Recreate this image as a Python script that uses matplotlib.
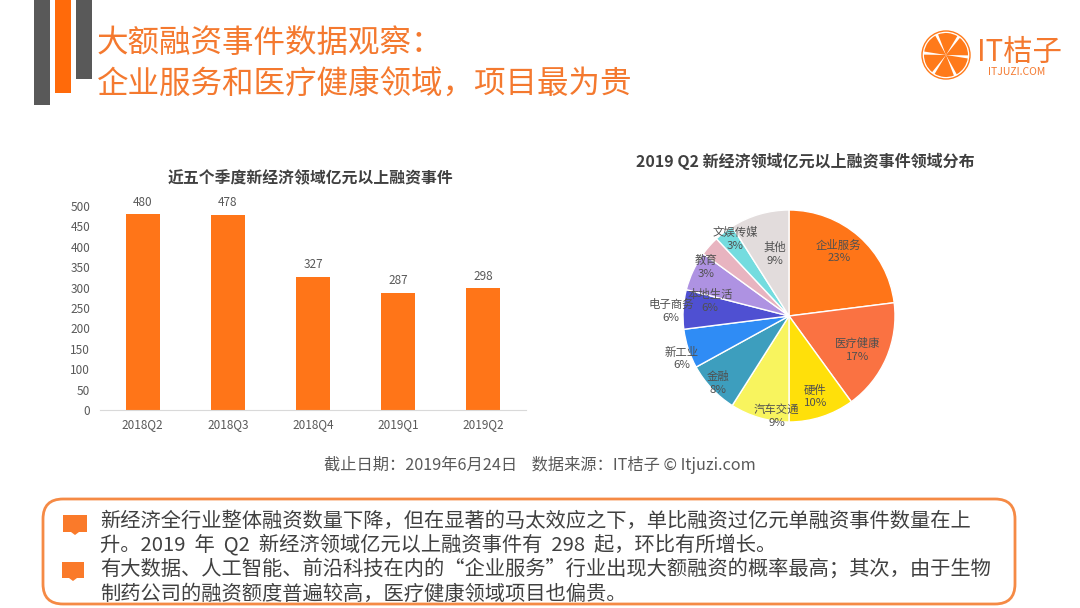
import matplotlib
matplotlib.use("Agg")
import matplotlib.pyplot as plt
from matplotlib.patches import Rectangle, FancyBboxPatch, Polygon, Circle, Wedge

plt.rcParams['font.family'] = ['Noto Sans CJK SC', 'DejaVu Sans']

quarters = ['2018Q2', '2018Q3', '2018Q4', '2019Q1', '2019Q2']
deals = [480, 478, 327, 287, 298]
y_ticks = [0, 50, 100, 150, 200, 250, 300, 350, 400, 450, 500]

sectors = ['企业服务', '医疗健康', '硬件', '汽车交通', '金融', '新工业', '电子商务', '本地生活', '教育', '文娱传媒', '其他']
shares = [23, 17, 10, 9, 8, 6, 6, 6, 3, 3, 9]
sector_colors = ['#FF7518', '#FA7242', '#FFE00A', '#F8F45E', '#3D9EBE', '#2F8CF5', '#4F50D2', '#AE92E2', '#E8B4C0', '#74DCDF', '#E2DCDC']
# label offset from the pie centre, as a fraction of the radius
label_pos = [(0.47, 0.61), (0.65, -0.32), (0.25, -0.76), (-0.116, -0.943), (-0.67, -0.63), (-1.01, -0.40), (-1.11, 0.047), (-0.745, 0.144), (-0.783, 0.465), (-0.51, 0.726), (-0.13, 0.585)]

W, H = 1080, 608
fig = plt.figure(figsize=(W / 100, H / 100), dpi=100, facecolor='white')

def px_axes(left, top, right, bottom):
    return fig.add_axes([left / W, 1 - bottom / H, (right - left) / W, (bottom - top) / H])

# overlay in pixel coordinates
bg = fig.add_axes([0, 0, 1, 1])
bg.set_xlim(0, W); bg.set_ylim(H, 0); bg.axis('off')

# header stripes
bg.add_patch(Rectangle((34, 0), 16, 105, color='#595959', lw=0))
bg.add_patch(Rectangle((55, 0), 16, 93, color='#FF6A0A', lw=0))
bg.add_patch(Rectangle((76, 0), 16, 79, color='#595959', lw=0))

orange = '#F4792F'
bg.text(97, 43, '大额融资事件数据观察：', fontsize=22.7, color=orange, va='center', ha='left')
bg.text(97, 84, '企业服务和医疗健康领域，项目最为贵', fontsize=22.7, color=orange, va='center', ha='left')

# logo
lx, ly, lr = 946, 55, 24
bg.add_patch(Circle((lx, ly), lr, fc='white', ec='#FF7A1A', lw=1))
for a in [65, 125, 185, 245, 305, 5]:
    bg.add_patch(Wedge((lx, ly), lr - 2, a + 4, a + 56, fc='#FF7A1A', lw=0))
bg.text(977, 52, 'IT桔子', fontsize=21.2, color='#F4792F', va='center', ha='left', fontweight='medium')
bg.text(1017, 72, 'ITJUZI.COM', fontsize=7.5, color='#F4792F', va='center', ha='center')

# bar chart
ax = px_axes(100, 206, 526, 410)
ax.bar(range(len(deals)), deals, width=0.4, color='#FF7518')
ax.set_xlim(-0.5, 4.5)
ax.set_ylim(0, 500)
ax.set_yticks(y_ticks)
ax.set_xticks(range(len(quarters)), quarters)
ax.tick_params(axis='both', length=0, labelsize=8.5, labelcolor='#595959')
ax.tick_params(axis='x', pad=6)
ax.tick_params(axis='y', pad=7)
for s in ['top', 'right', 'left']:
    ax.spines[s].set_visible(False)
ax.spines['bottom'].set_color('#D9D9D9')
for i, v in enumerate(deals):
    ax.annotate(str(v), (i, v), xytext=(0, 4), textcoords='offset points', ha='center', va='bottom', fontsize=8.5, color='#595959', annotation_clip=False)
ax.patch.set_alpha(0)
bg.text(310, 178, '近五个季度新经济领域亿元以上融资事件', fontsize=11.4, fontweight='bold', color='#404040', ha='center', va='center')

# pie chart
cx, cy, r = 789, 316, 106
pa = px_axes(cx - r, cy - r, cx + r, cy + r)
pa.pie(shares, colors=sector_colors, startangle=90, counterclock=False, radius=1,
       wedgeprops=dict(edgecolor='white', linewidth=1))
pa.set_xlim(-1, 1); pa.set_ylim(-1, 1)
for name, val, (dx, dy) in zip(sectors, shares, label_pos):
    pa.text(dx, dy, f'{name}\n{val}%', ha='center', va='center', fontsize=8.2, color='#505050', linespacing=1.35, clip_on=False)
bg.text(805, 161, '2019 Q2 新经济领域亿元以上融资事件领域分布', fontsize=11.5, fontweight='bold', color='#404040', ha='center', va='center')

# source
bg.text(540, 465, '截止日期：2019年6月24日    数据来源：IT桔子 © Itjuzi.com', fontsize=11.7, color='#595959', ha='center', va='center')

# callout box
bg.add_patch(FancyBboxPatch((43, 499), 972, 105, boxstyle='round,pad=0,rounding_size=20',
                            fc='white', ec='#F58A45', lw=2))
for x0, y0, w, h in ((63, 515, 24, 17), (62, 562, 22, 16)):
    bg.add_patch(Rectangle((x0, y0), w, h, color='#FA7A2A', lw=0))
    mid = x0 + w / 2
    bg.add_patch(Polygon([(mid - 4, y0 + h), (mid + 4, y0 + h), (mid, y0 + h + 3)], color='#FA7A2A', lw=0))
body = '#404040'
lines = [(521, '新经济全行业整体融资数量下降，但在显著的马太效应之下，单比融资过亿元单融资事件数量在上'),
         (545, '升。2019  年  Q2  新经济领域亿元以上融资事件有  298  起，环比有所增长。'),
         (569, '有大数据、人工智能、前沿科技在内的“企业服务”行业出现大额融资的概率最高；其次，由于生物'),
         (594, '制药公司的融资额度普遍较高，医疗健康领域项目也偏贵。')]
for y, t in lines:
    bg.text(100, y, t, fontsize=14.6, color=body, ha='left', va='center')

fig.savefig('out.png', dpi=100)
